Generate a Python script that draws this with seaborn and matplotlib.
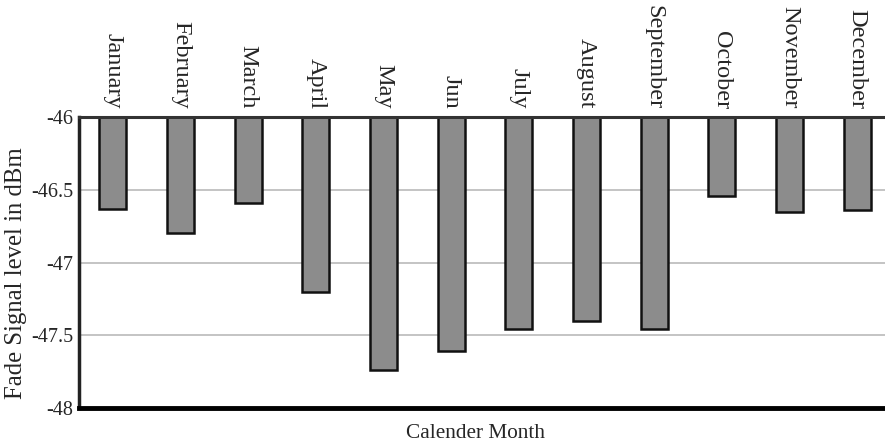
import matplotlib
matplotlib.use("Agg")
import matplotlib.pyplot as plt
import seaborn as sns
import pandas as pd

months = ["January", "February", "March", "April", "May", "Jun", "July",
          "August", "September", "October", "November", "December"]
fade_dbm = [-46.63, -46.80, -46.59, -47.20, -47.74, -47.61, -47.46,
            -47.40, -47.46, -46.54, -46.65, -46.64]
yticks = [-48, -47.5, -47, -46.5, -46]
ytick_labels = ["-48", "-47.5", "-47", "-46.5", "-46"]

sns.set_theme(style="white")
plt.rcParams["font.family"] = ["Liberation Serif", "DejaVu Serif"]

df = pd.DataFrame({"month": months, "value": fade_dbm})

fig = plt.figure(figsize=(8.85, 4.47), dpi=100)
ax = fig.add_axes([79 / 885, 1 - 408 / 447, 1 - 79 / 885, (408 - 117) / 447])

sns.barplot(data=df, x="month", y="value", ax=ax, color="#8c8c8c",
            saturation=1, width=0.40, edgecolor="#111111", linewidth=1.8,
            zorder=3)

ax.set_ylim(-48, -46)
ax.set_xlim(-0.5, 11.41)
ax.set_yticks(yticks)
ax.set_yticklabels(ytick_labels, fontsize=14.5)
ax.yaxis.grid(True, color="#bfbfbf", linewidth=1.3, zorder=0)
ax.set_axisbelow(True)

ax.xaxis.tick_top()
ax.set_xticks(range(len(months)))
ax.set_xticklabels(months, rotation=-90, fontsize=17.5, va="bottom", ha="center")
ax.tick_params(axis="x", length=0, pad=6)
ax.tick_params(axis="y", length=0, pad=4)

ax.set_xlabel("Calender Month", fontsize=15.3)
ax.xaxis.set_label_position("bottom")
ax.xaxis.set_label_coords((476 - 79) / (885 - 79), -(433 - 408) / (408 - 117))
ax.xaxis.label.set_va("center")
ax.set_ylabel("Fade Signal level in dBm", fontsize=17.8)
ax.yaxis.set_label_coords(-(79 - 16) / (885 - 79), (408 - 273) / (408 - 117))
ax.yaxis.label.set_va("center")

ax.spines["right"].set_visible(False)
ax.spines["left"].set_linewidth(2.5)
ax.spines["left"].set_color("#222222")
ax.spines["bottom"].set_linewidth(3.5)
ax.spines["bottom"].set_color("#000000")
ax.spines["top"].set_linewidth(2.2)
ax.spines["top"].set_color("#333333")
for s in ax.spines.values():
    s.set_zorder(5)

fig.savefig("out.png", dpi=100)
